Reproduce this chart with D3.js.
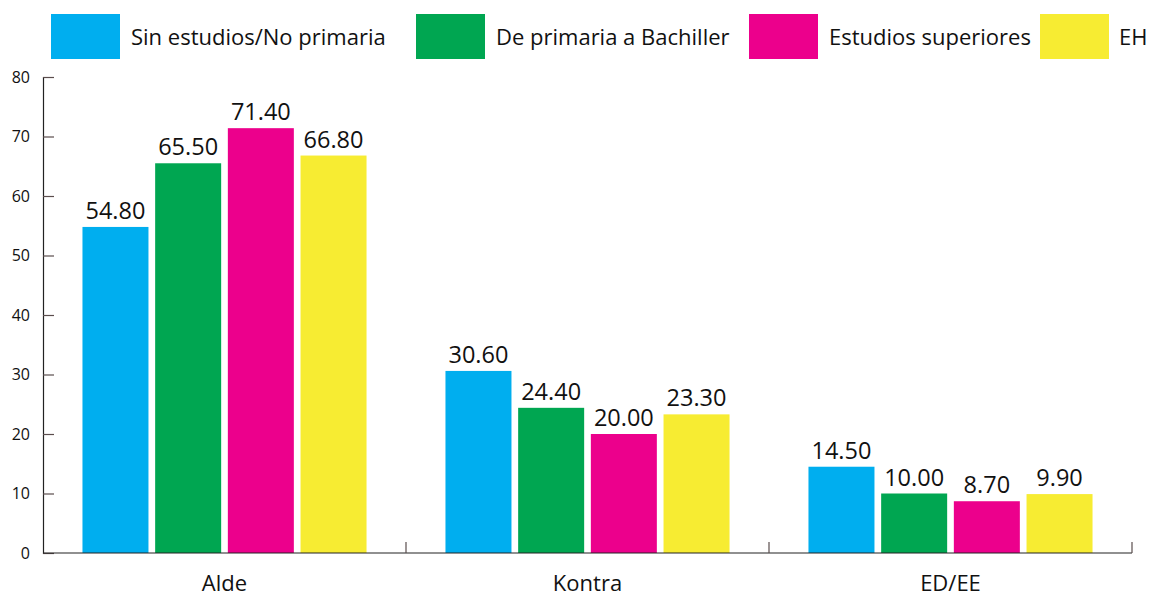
<!DOCTYPE html>
<html>
<head>
<meta charset="utf-8">
<script src="https://cdn.jsdelivr.net/npm/d3@7"></script>
<style>
  body { margin: 0; background: #fff; }
  text { font-family: "Open Sans", sans-serif; fill: #111; }
</style>
</head>
<body>
<div id="chart"></div>
<script>
var categories = ["Alde", "Kontra", "ED/EE"];
var series = ["Sin estudios/No primaria", "De primaria a Bachiller", "Estudios superiores", "EH"];
var colors = ["#00aeef", "#00a651", "#ec008c", "#f7ec32"];
var values = [
  [54.8, 65.5, 71.4, 66.8],
  [30.6, 24.4, 20.0, 23.3],
  [14.5, 10.0, 8.7, 9.9]
];
var yTicks = [0, 10, 20, 30, 40, 50, 60, 70, 80];

var width = 1153, height = 599;
var margin = {left: 43, right: 21, top: 77, bottom: 46};

var svg = d3.select("#chart").append("svg")
    .attr("width", width)
    .attr("height", height);

var x0 = d3.scaleBand()
    .domain(categories)
    .range([margin.left, width - margin.right]);

var x1 = d3.scaleBand()
    .domain(series)
    .range([0, x0.bandwidth()])
    .paddingInner(0.092)
    .paddingOuter(0.543);

var y = d3.scaleLinear()
    .domain([0, 80])
    .range([height - margin.bottom, margin.top]);

var color = d3.scaleOrdinal().domain(series).range(colors);

// y axis
var yAxis = svg.append("g")
    .attr("transform", "translate(" + margin.left + ",0)")
    .call(d3.axisRight(y).tickValues(yTicks).tickSize(11).tickFormat(d3.format("d")));
yAxis.select(".domain").attr("stroke", "#222").attr("stroke-width", 1.2);
yAxis.selectAll(".tick line").attr("stroke", "#5a4d4d").attr("stroke-width", 1.2);
yAxis.selectAll(".tick text")
    .attr("x", -13)
    .attr("text-anchor", "end")
    .style("font-size", "16px")
    .style("font-family", "'Open Sans', sans-serif")
    .attr("fill", "#111");

// groups
var groups = svg.selectAll("g.group")
    .data(values)
    .enter().append("g")
    .attr("class", "group")
    .attr("transform", function (d, i) { return "translate(" + x0(categories[i]) + ",0)"; });

groups.selectAll("rect")
    .data(function (d) { return d; })
    .enter().append("rect")
    .attr("x", function (d, j) { return x1(series[j]); })
    .attr("y", function (d) { return y(d); })
    .attr("width", x1.bandwidth())
    .attr("height", function (d) { return y(0) - y(d); })
    .attr("fill", function (d, j) { return color(series[j]); });

groups.selectAll("text.val")
    .data(function (d) { return d; })
    .enter().append("text")
    .attr("class", "val")
    .attr("x", function (d, j) { return x1(series[j]) + x1.bandwidth() / 2; })
    .attr("y", function (d) { return y(d) - 8; })
    .attr("text-anchor", "middle")
    .style("font-size", "23.5px")
    .text(function (d) { return d3.format(".2f")(d); });

// x axis
var xAxis = svg.append("g")
    .attr("transform", "translate(0," + y(0) + ")");
xAxis.append("line")
    .attr("x1", margin.left)
    .attr("x2", x0.range()[1])
    .attr("stroke", "#222")
    .attr("stroke-width", 1.2);
xAxis.selectAll("line.sep")
    .data(categories)
    .enter().append("line")
    .attr("class", "sep")
    .attr("x1", function (d) { return x0(d) + x0.bandwidth(); })
    .attr("x2", function (d) { return x0(d) + x0.bandwidth(); })
    .attr("y1", 0)
    .attr("y2", -11)
    .attr("stroke", "#5a4d4d")
    .attr("stroke-width", 1.2);
xAxis.selectAll("text")
    .data(categories)
    .enter().append("text")
    .attr("x", function (d) { return x0(d) + x0.bandwidth() / 2; })
    .attr("y", 38)
    .attr("text-anchor", "middle")
    .style("font-size", "22px")
    .text(function (d) { return d; });

// legend
var legendX = [51, 416, 749, 1040];
var legend = svg.selectAll("g.legend")
    .data(series)
    .enter().append("g")
    .attr("class", "legend")
    .attr("transform", function (d, i) { return "translate(" + legendX[i] + ",14)"; });
legend.append("rect")
    .attr("width", 69)
    .attr("height", 45)
    .attr("fill", function (d) { return color(d); });
legend.append("text")
    .attr("x", function (d, i) { return i === 3 ? 79 : 80; })
    .attr("y", 31)
    .style("font-size", "22px")
    .text(function (d) { return d; });
</script>
</body>
</html>
